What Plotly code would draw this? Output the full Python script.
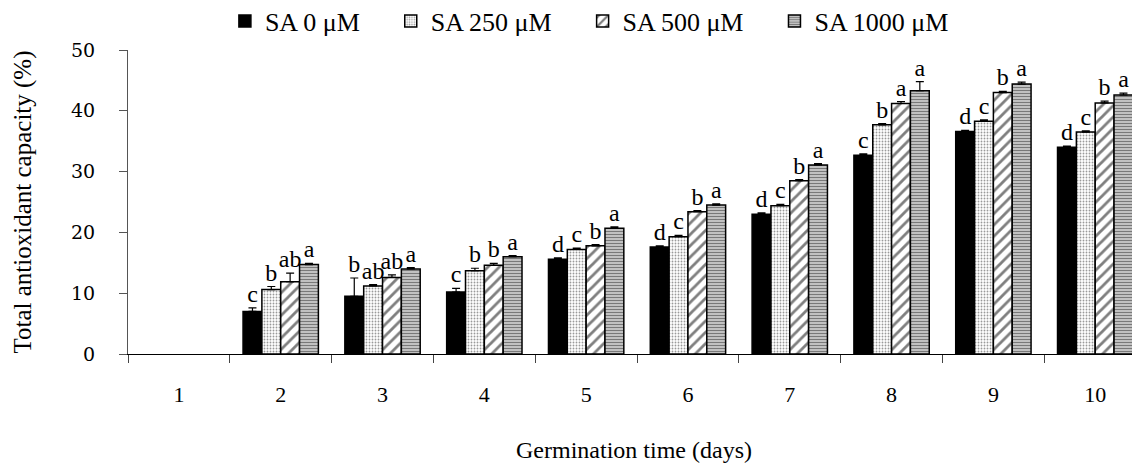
import plotly.graph_objects as go

days = ["1", "2", "3", "4", "5", "6", "7", "8", "9", "10"]
series_names = ["SA 0 μM", "SA 250 μM", "SA 500 μM", "SA 1000 μM"]

sa0 = [None, 7.0, 9.5, 10.2, 15.6, 17.6, 23.0, 32.7, 36.6, 34.0]
sa250 = [None, 10.6, 11.2, 13.7, 17.2, 19.3, 24.4, 37.7, 38.3, 36.5]
sa500 = [None, 11.9, 12.6, 14.6, 17.8, 23.4, 28.5, 41.2, 43.0, 41.3]
sa1000 = [None, 14.7, 14.0, 16.0, 20.7, 24.5, 31.1, 43.3, 44.4, 42.6]

err0 = [0, 0.6, 3.0, 0.6, 0.2, 0.2, 0.2, 0.2, 0.2, 0.2]
err250 = [0, 0.5, 0.2, 0.4, 0.2, 0.2, 0.2, 0.2, 0.2, 0.2]
err500 = [0, 1.4, 0.4, 0.3, 0.2, 0.2, 0.2, 0.3, 0.2, 0.3]
err1000 = [0, 0.2, 0.2, 0.2, 0.2, 0.2, 0.2, 1.5, 0.3, 0.3]

let0 = ["", "c", "b", "c", "d", "d", "d", "c", "d", "d"]
let250 = ["", "b", "ab", "b", "c", "c", "c", "b", "c", "c"]
let500 = ["", "ab", "ab", "b", "b", "b", "b", "a", "b", "b"]
let1000 = ["", "a", "a", "a", "a", "a", "a", "a", "a", "a"]

values = [sa0, sa250, sa500, sa1000]
errors = [err0, err250, err500, err1000]
letters = [let0, let250, let500, let1000]

patterns = [
    dict(shape=""),
    dict(shape=".", fgcolor="#333333", bgcolor="white", size=3, solidity=0.3),
    dict(shape="/", fgcolor="black", bgcolor="white", size=8, solidity=0.35),
    dict(shape="-", fgcolor="#222222", bgcolor="#d0d0d0", size=3, solidity=0.45),
]
colors = ["black", "white", "white", "#d0d0d0"]
legend_pad = ["\u00a0" * 4, "\u00a0" * 4, "\u00a0" * 4, ""]

GAP = 0.26

fig = go.Figure()
for i in range(4):
    fig.add_trace(go.Bar(
        name=series_names[i] + legend_pad[i],
        x=days,
        y=values[i],
        offsetgroup=str(i),
        marker=dict(color=colors[i], pattern=patterns[i],
                    line=dict(color="black", width=1.5)),
        error_y=dict(type="data", array=errors[i], arrayminus=[0] * len(days),
                     symmetric=False, color="black", thickness=1.2, width=4),
    ))

for i in range(4):
    tops = [None if v is None else v + e for v, e in zip(values[i], errors[i])]
    fig.add_trace(go.Scatter(
        x=days,
        y=tops,
        mode="text",
        text=letters[i],
        textposition="top center",
        offsetgroup=str(i),
        showlegend=False,
        cliponaxis=False,
        hoverinfo="skip",
        textfont=dict(family="Liberation Serif", size=24, color="black"),
    ))

# the page adds an 8 px body margin, so the figure is drawn 8 px right/down
fig.update_layout(
    width=1140, height=465,
    barmode="group",
    bargap=GAP,
    bargroupgap=0,
    scattermode="group",
    scattergap=GAP,
    plot_bgcolor="white",
    paper_bgcolor="white",
    margin=dict(l=120, r=8, t=42, b=119, autoexpand=False),
    legend=dict(orientation="h", xref="container", x=0.51, xanchor="center",
                yref="container", y=0.972, yanchor="middle",
                font=dict(family="Liberation Serif", size=26, color="black"),
                traceorder="normal", itemwidth=30),
    xaxis=dict(
        type="category",
        range=[-0.5, 9.44],
        automargin=False,
        showline=True, linecolor="black", linewidth=1,
        ticks="outside", tickson="boundaries", ticklen=8, tickcolor="#444",
        tickfont=dict(family="Liberation Serif", size=22, color="black"),
        ticklabelstandoff=21,
        title=dict(text="Germination time (days)",
                   font=dict(family="Liberation Serif", size=24, color="black"),
                   standoff=34),
        showgrid=False,
    ),
    yaxis=dict(
        range=[0, 50], dtick=10,
        automargin=False,
        showline=True, linecolor="#555", linewidth=1,
        ticks="outside", ticklen=8, tickcolor="#555",
        tickfont=dict(family="DejaVu Serif", size=19, color="black"),
        ticklabelstandoff=20,
        title=dict(text="Total antioxidant capacity (%)",
                   font=dict(family="Liberation Serif", size=25, color="black"),
                   standoff=32),
        showgrid=False, zeroline=False,
    ),
)

fig.write_html("out.html")
